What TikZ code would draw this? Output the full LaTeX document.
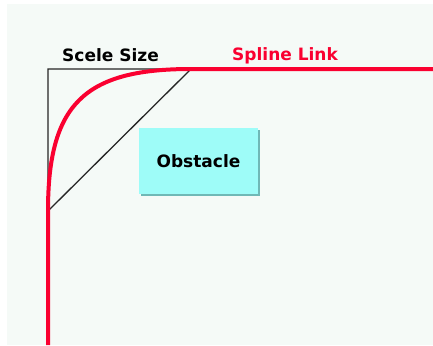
\documentclass[tikz,border=0pt]{standalone}
\usepackage{fontspec}
\setmainfont{DejaVu Sans}
\definecolor{canvas}{HTML}{F5FAF7}
\definecolor{linkred}{HTML}{FA0030}
\definecolor{obstfill}{HTML}{9EFCF8}
\definecolor{obstedge}{HTML}{6FB8B6}
\begin{document}
\begin{tikzpicture}[x=1pt,y=-1pt,
  lbl/.style={font=\fontsize{17}{20}\selectfont\bfseries, inner sep=0pt, anchor=base west},
  guide/.style={draw=black!85, line width=1.3pt},
  splinelink/.style={draw=linkred, line width=4pt},
  obstacle/.style={fill=obstfill, draw=none, minimum width=119pt, minimum height=66pt,
    inner sep=0pt, font=\fontsize{17}{20}\selectfont\bfseries},
  obstshadow/.style={fill=obstedge, draw=none, minimum width=119pt, minimum height=66pt, inner sep=0pt}]
  % canvas
  \useasboundingbox (0,0) rectangle (433,345);
  \fill[white] (0,0) rectangle (433,345);
  \fill[canvas] (7,4) rectangle (433,345);

  % control geometry
  \coordinate (corner) at (48,69);
  \coordinate (topend) at (191,69);
  \coordinate (sideend) at (48,211);
  \coordinate (rightend) at (433,69);
  \coordinate (bottomend) at (48,345);
  \coordinate (ctrlA) at (48,104.5);
  \coordinate (ctrlB) at (83.75,69);

  % scale square and its diagonal
  \draw[guide] (sideend) -- (corner) -- (topend) -- cycle;

  % spline link
  \draw[splinelink] (bottomend) -- (sideend) .. controls (ctrlA) and (ctrlB) .. (topend) -- (rightend);

  % labels
  \node[lbl] (scale) at (62,61.5) {Scele Size};
  \node[lbl, text=linkred] (spline) at (232,60) {Spline Link};

  % obstacle box with bevel shadow
  \node[obstshadow] (obstshadow) at (200.5,163) {};
  \node[obstacle] (obst) at (198.5,161) {Obstacle};
\end{tikzpicture}
\end{document}
